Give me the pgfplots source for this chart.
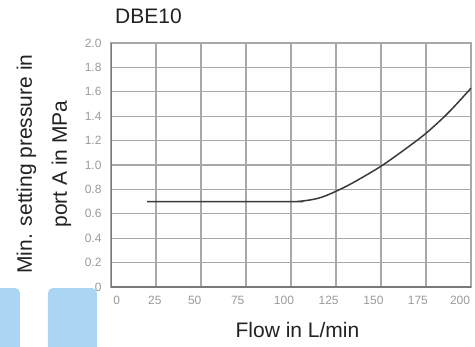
\documentclass[border=0pt]{standalone}
\usepackage{pgfplots}
\pgfplotsset{compat=1.18}
\usepackage{fontspec}
\setmainfont{Liberation Sans}
\definecolor{gridc}{HTML}{A8A8A8}
\definecolor{axc}{HTML}{7A7A7A}
\definecolor{tickc}{HTML}{9A9A9A}
\definecolor{curvec}{HTML}{3A3A3A}
\definecolor{boxc}{HTML}{AAD6F3}
\definecolor{txtc}{HTML}{222222}
\begin{document}
\begin{tikzpicture}
\useasboundingbox (-111bp,-60bp) rectangle (364bp,287bp);
\fill[boxc, rounded corners=5bp] (-118bp,-70bp) rectangle (-91bp,-1bp);
\fill[boxc, rounded corners=5bp] (-63bp,-70bp) rectangle (-14bp,-1bp);
\begin{axis}[
  scale only axis,
  width=360bp, height=244bp,
  xmin=0, xmax=200, ymin=0, ymax=2,
  xtick={0,25,50,75,100,125,150,175,200},
  xticklabels={},
  extra x ticks={3.2,24.4,46.5,70.4,96.1,120.9,145.8,170.5,193.9},
  extra x tick labels={0,25,50,75,100,125,150,175,200},
  extra x tick style={grid=none, major tick length=0pt},
  ytick={0,0.2,0.4,0.6,0.8,1.0,1.2,1.4,1.6,1.8,2.0},
  yticklabels={0,0.2,0.4,0.6,0.8,1.0,1.2,1.4,1.6,1.8,2.0},
  grid=major,
  major grid style={gridc, line width=1.2bp},
  major tick length=0pt,
  axis line style={gridc, line width=1.2bp},
  /pgf/number format/assume math mode=true,
  tick label style={font=\fontsize{12bp}{12bp}\selectfont, text=tickc},
  yticklabel style={xshift=-6bp},
  xticklabel style={yshift=-6bp},
]
\addplot[curvec, line width=1.5bp, smooth] coordinates {
  (20,0.700) (100,0.700) (105,0.703) (110,0.712) (115,0.727) (120,0.752)
  (125,0.785) (130,0.820) (137.5,0.880) (150,0.990) (162.5,1.120)
  (175,1.260) (187.5,1.430) (200,1.630)
};
\draw[axc, line width=1.4bp] (rel axis cs:0,1) -- (rel axis cs:0,0) -- (rel axis cs:1,0);
\end{axis}
\node[anchor=base west, text=txtc, font=\fontsize{21bp}{25bp}\selectfont, inner sep=0pt] at (4bp,263.7bp) {DBE10};
\node[anchor=base, text=txtc, font=\fontsize{21bp}{25bp}\selectfont, inner sep=0pt] at (186.5bp,-50bp) {Flow in L/min};
\node[rotate=90, anchor=base, text=txtc, font=\fontsize{21bp}{25bp}\selectfont, inner sep=0pt] at (-79bp,123bp) {Min. setting pressure in};
\node[rotate=90, anchor=base, text=txtc, font=\fontsize{21bp}{25bp}\selectfont, inner sep=0pt] at (-44bp,123bp) {port A in MPa};
\end{tikzpicture}
\end{document}
